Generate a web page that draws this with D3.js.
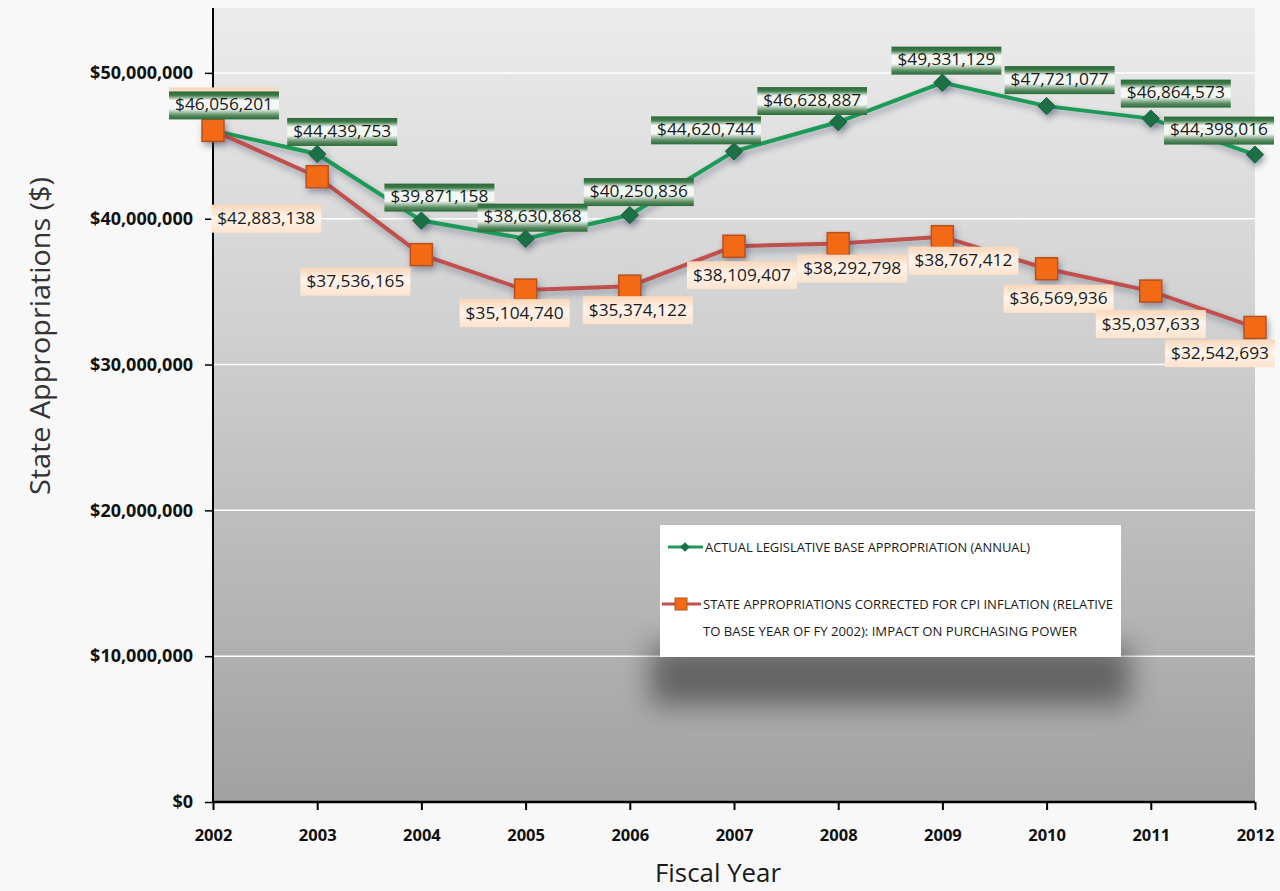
<!DOCTYPE html>
<html><head><meta charset="utf-8">
<script src="https://cdn.jsdelivr.net/npm/d3@7"></script>
<style>
body{margin:0;background:#f8f8f8;}
svg{display:block;font-family:'Open Sans',sans-serif;}
</style>
</head><body>
<svg id="c" width="1280" height="891"></svg>
<script>
// ---------- data ----------
const years = [2002, 2003, 2004, 2005, 2006, 2007, 2008, 2009, 2010, 2011, 2012];
const actualValues = [46056201, 44439753, 39871158, 38630868, 40250836, 44620744, 46628887, 49331129, 47721077, 46864573, 44398016];
const adjustedValues = [46056201, 42883138, 37536165, 35104740, 35374122, 38109407, 38292798, 38767412, 36569936, 35037633, 32542693];
const yTickValues = [0, 10000000, 20000000, 30000000, 40000000, 50000000];
const seriesNames = ["ACTUAL LEGISLATIVE BASE APPROPRIATION (ANNUAL)",
  "STATE APPROPRIATIONS CORRECTED FOR CPI INFLATION (RELATIVE|TO BASE YEAR OF FY 2002): IMPACT ON PURCHASING POWER"];
const xTitle = "Fiscal Year";
const yTitle = "State Appropriations ($)";
// label placement (offset of label centre from its point, px)
const actualLabelOffsets = [[11,-26],[25,-23],[18,-24],[7,-22],[9,-24],[-28,-22],[-26,-22],[4,-23],[13,-27],[25,-26],[-36,-25]];
const adjustedLabelOffsets = [[11,-26],[-51,42],[-66,27],[-11,23],[8,24],[8,29],[14,25],[21,24],[12,30],[0,33],[-35,26]];

// ---------- setup ----------
const svg = d3.select("#c");
const M = {left:213, right:1255, top:8, bottom:802};
const x = d3.scaleLinear().domain([2002, 2012]).range([M.left, M.right]);
const y = d3.scaleLinear().domain([0, 54450000]).range([M.bottom, M.top]);
const fmt = d => "$" + d3.format(",")(d);

const defs = svg.append("defs");
const bg = defs.append("linearGradient").attr("id","plotbg").attr("x1",0).attr("y1",0).attr("x2",0).attr("y2",1);
bg.append("stop").attr("offset","0%").attr("stop-color","#ececec");
bg.append("stop").attr("offset","45%").attr("stop-color","#cdcdcd");
bg.append("stop").attr("offset","100%").attr("stop-color","#a1a1a1");

const gG = defs.append("linearGradient").attr("id","greenLbl").attr("x1",0).attr("y1",0).attr("x2",0).attr("y2",1);
gG.append("stop").attr("offset","0%").attr("stop-color","#2a6a38");
gG.append("stop").attr("offset","14%").attr("stop-color","#3f7a4a");
gG.append("stop").attr("offset","32%").attr("stop-color","#f4f8f4");
gG.append("stop").attr("offset","62%").attr("stop-color","#f4f8f4");
gG.append("stop").attr("offset","85%").attr("stop-color","#5c8d64");
gG.append("stop").attr("offset","100%").attr("stop-color","#2a6a38");

const oG = defs.append("linearGradient").attr("id","orangeLbl").attr("x1",0).attr("y1",0).attr("x2",0).attr("y2",1);
oG.append("stop").attr("offset","0%").attr("stop-color","#fbd6b8");
oG.append("stop").attr("offset","45%").attr("stop-color","#fff4ec");
oG.append("stop").attr("offset","100%").attr("stop-color","#fde3cd");

const sh = defs.append("filter").attr("id","shadow").attr("x","-20%").attr("y","-20%").attr("width","140%").attr("height","160%");
sh.append("feDropShadow").attr("dx",2).attr("dy",4).attr("stdDeviation",3).attr("flood-color","#3a4660").attr("flood-opacity",0.45);

const blur = defs.append("filter").attr("id","blur").attr("x","-30%").attr("y","-60%").attr("width","160%").attr("height","220%");
blur.append("feGaussianBlur").attr("stdDeviation",14);

// plot background
svg.append("rect").attr("x",M.left).attr("y",M.top).attr("width",M.right-M.left).attr("height",M.bottom-M.top).attr("fill","url(#plotbg)");

// gridlines
svg.append("g").selectAll("line").data(yTickValues.filter(d=>d>0)).join("line")
  .attr("x1",M.left).attr("x2",M.right).attr("y1",d=>y(d)).attr("y2",d=>y(d))
  .attr("stroke","#ffffff").attr("stroke-width",1.5);

// legend shadow + box
svg.append("rect").attr("x",650).attr("y",645).attr("width",480).attr("height",60)
  .attr("fill","#000").attr("opacity",0.42).attr("filter","url(#blur)");
svg.append("rect").attr("x",660).attr("y",525).attr("width",461).attr("height",132).attr("fill","#ffffff");

// axes
const yAxis = svg.append("g").attr("transform",`translate(${M.left},0)`)
  .call(d3.axisLeft(y).tickValues(yTickValues).tickFormat(fmt).tickSize(8).tickPadding(12))
  .attr("font-family","'Open Sans',sans-serif");
yAxis.selectAll("text").attr("font-size",18).attr("font-weight","bold").attr("fill","#111");
yAxis.select(".domain").attr("d",`M0,${M.top}V${M.bottom}`).attr("stroke","#000").attr("stroke-width",2);
yAxis.selectAll(".tick line").attr("stroke","#000").attr("stroke-width",1.5);

const xAxis = svg.append("g").attr("transform",`translate(0,${M.bottom})`)
  .call(d3.axisBottom(x).tickValues(years).tickFormat(d3.format("d")).tickSize(8).tickPadding(19))
  .attr("font-family","'Open Sans',sans-serif");
xAxis.selectAll("text").attr("font-size",16.5).attr("font-weight","bold").attr("fill","#111");
xAxis.select(".domain").attr("d",`M${M.left},0H${M.right}`).attr("stroke","#000").attr("stroke-width",2.5);
xAxis.selectAll(".tick line").attr("stroke","#000").attr("stroke-width",2);

// axis titles
svg.append("text").attr("x",718).attr("y",882).attr("text-anchor","middle")
  .attr("font-size",25).attr("fill","#1a1a1a").attr("textLength",126).attr("lengthAdjust","spacingAndGlyphs").text(xTitle);
svg.append("text").attr("transform",`translate(50,336) rotate(-90)`).attr("text-anchor","middle")
  .attr("font-size",27).attr("fill","#333").attr("textLength",318).attr("lengthAdjust","spacingAndGlyphs").text(yTitle);

// lines
const line = d3.line().x((d,i)=>x(years[i])).y(d=>y(d));
svg.append("path").datum(actualValues).attr("d",line).attr("fill","none")
  .attr("stroke","#1f9a58").attr("stroke-width",4).attr("filter","url(#shadow)");
svg.append("path").datum(adjustedValues).attr("d",line).attr("fill","none")
  .attr("stroke","#c0504d").attr("stroke-width",4).attr("filter","url(#shadow)");

// markers
const diamond = d3.symbol().type(d3.symbolDiamond2).size(190);
svg.append("g").attr("filter","url(#shadow)").selectAll("path").data(actualValues).join("path")
  .attr("d",diamond).attr("transform",(d,i)=>`translate(${x(years[i])},${y(d)})`)
  .attr("fill","#1b7045").attr("stroke","#175e3b").attr("stroke-width",1);
svg.append("g").attr("filter","url(#shadow)").selectAll("rect").data(adjustedValues).join("rect")
  .attr("x",(d,i)=>x(years[i])-11).attr("y",d=>y(d)-11).attr("width",22).attr("height",22)
  .attr("fill","#f26b12").attr("stroke","#b8501e").attr("stroke-width",1.5);

// data labels: boxes and texts
const labelData = [];
actualValues.forEach((v,i)=>labelData.push({v, i, off:actualLabelOffsets[i], fill:"url(#greenLbl)", dyBox:1}));
adjustedValues.forEach((v,i)=>labelData.push({v, i, off:adjustedLabelOffsets[i], fill:"url(#orangeLbl)", dyBox:(i===0?-3:0)}));
const lg0 = svg.append("g").selectAll("g").data(labelData).join("g")
  .attr("transform",d=>`translate(${x(years[d.i])+d.off[0]},${y(d.v)+d.off[1]})`);
lg0.append("rect").attr("x",-55).attr("y",d=>-14+d.dyBox).attr("width",110).attr("height",d=>d.dyBox<0?24:28).attr("fill",d=>d.fill);
// where both series share the same value and label position, only one text is shown
lg0.filter(d=>!(d.fill==="url(#orangeLbl)" && d.i===0 && adjustedValues[0]===actualValues[0]))
  .append("text").attr("text-anchor","middle").attr("dy","0.36em").attr("font-size",16)
  .attr("fill","#1a1a1a").attr("textLength",98).attr("lengthAdjust","spacingAndGlyphs").text(d=>fmt(d.v));
lg0.filter(d=>d.fill==="url(#greenLbl)" && d.i===0).raise();
lg0.filter(d=>d.fill==="url(#orangeLbl)" && d.i===0).lower();

// legend entries
const lg = svg.append("g");
lg.append("line").attr("x1",668).attr("x2",703).attr("y1",547).attr("y2",547).attr("stroke","#1f9a58").attr("stroke-width",3);
lg.append("path").attr("d",d3.symbol().type(d3.symbolDiamond2).size(60)).attr("transform","translate(685,547)").attr("fill","#1b7045");
lg.append("text").attr("x",705).attr("y",547).attr("dy","0.36em").attr("font-size",13).attr("fill","#1a1a1a")
  .attr("textLength",325).attr("lengthAdjust","spacingAndGlyphs").text(seriesNames[0]);
lg.append("line").attr("x1",662).attr("x2",701).attr("y1",604).attr("y2",604).attr("stroke","#c0504d").attr("stroke-width",3);
lg.append("rect").attr("x",675).attr("y",598).attr("width",12).attr("height",12).attr("fill","#f26b12").attr("stroke","#b8501e");
const parts = seriesNames[1].split("|");
lg.append("text").attr("x",703).attr("y",604).attr("dy","0.36em").attr("font-size",13).attr("fill","#1a1a1a")
  .attr("textLength",410).attr("lengthAdjust","spacingAndGlyphs").text(parts[0]);
lg.append("text").attr("x",703).attr("y",631).attr("dy","0.36em").attr("font-size",13).attr("fill","#1a1a1a")
  .attr("textLength",374).attr("lengthAdjust","spacingAndGlyphs").text(parts[1]);
</script>
</body></html>
